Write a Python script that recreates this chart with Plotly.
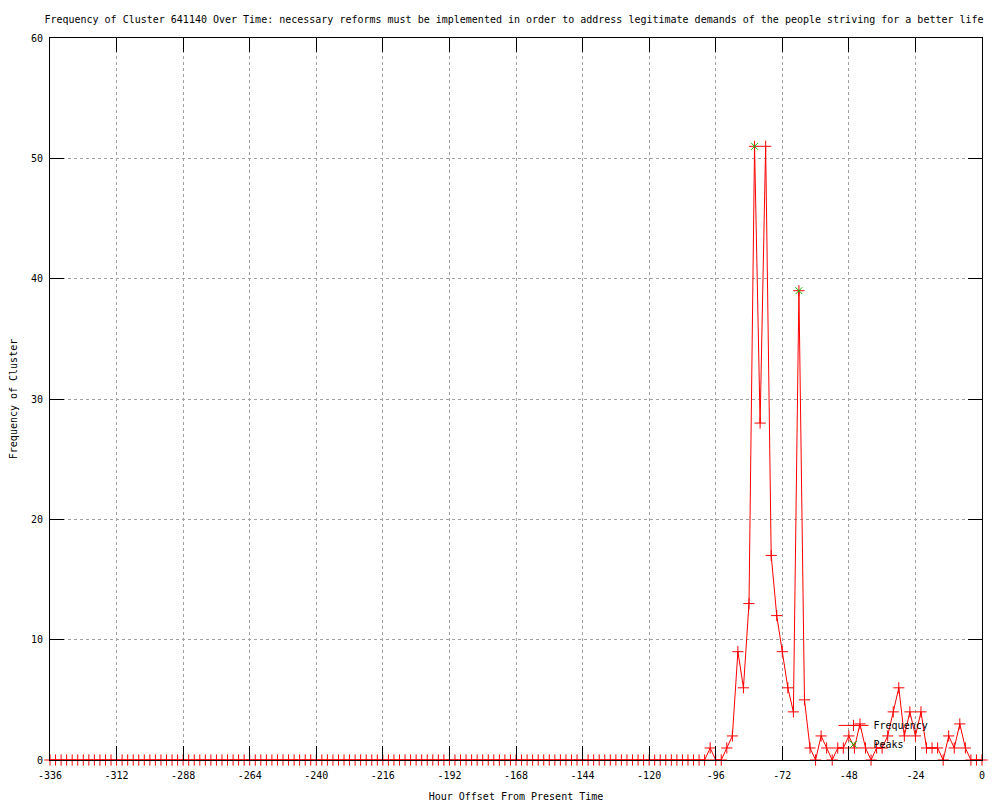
import plotly.graph_objects as go

# ---- data ----
hours = list(range(-336, 1, 2))  # one sample every 2 hours

freq = [
    # -336 .. -298
    0, 0, 0, 0, 0, 0, 0, 0, 0, 0, 0, 0, 0, 0, 0, 0, 0, 0, 0, 0,
    # -296 .. -258
    0, 0, 0, 0, 0, 0, 0, 0, 0, 0, 0, 0, 0, 0, 0, 0, 0, 0, 0, 0,
    # -256 .. -218
    0, 0, 0, 0, 0, 0, 0, 0, 0, 0, 0, 0, 0, 0, 0, 0, 0, 0, 0, 0,
    # -216 .. -178
    0, 0, 0, 0, 0, 0, 0, 0, 0, 0, 0, 0, 0, 0, 0, 0, 0, 0, 0, 0,
    # -176 .. -138
    0, 0, 0, 0, 0, 0, 0, 0, 0, 0, 0, 0, 0, 0, 0, 0, 0, 0, 0, 0,
    # -136 .. -100
    0, 0, 0, 0, 0, 0, 0, 0, 0, 0, 0, 0, 0, 0, 0, 0, 0, 0, 0,
    # -98 .. -60
    1, 0, 0, 1, 2, 9, 6, 13, 51, 28, 51, 17, 12, 9, 6, 4, 39, 5, 1, 0,
    # -58 .. -20
    2, 1, 0, 1, 1, 2, 1, 3, 1, 0, 1, 1, 2, 4, 6, 2, 4, 2, 4, 1,
    # -18 .. 0
    1, 1, 0, 2, 1, 3, 1, 0, 0, 0,
]

peak_hours = [-82, -66]
peak_values = [51, 39]

x_tickvals = [-336, -312, -288, -264, -240, -216, -192, -168, -144, -120, -96, -72, -48, -24, 0]
x_ticktext = ["-336", "-312", "-288", "-264", "-240", "-216", "-192", "-168", "-144", "-120",
              "-96", "-72", "-48", "-24", "0"]
y_tickvals = [0, 10, 20, 30, 40, 50, 60]

title_text = ("Frequency of Cluster 641140 Over Time: necessary reforms must be implemented "
              "in order to address legitimate demands of the people striving for a better life")

FONT = "DejaVu Sans Mono"
RED = "#ff0000"
GREEN = "#00c000"
GRID = "#a0a0a0"

fig = go.Figure()
fig.add_trace(go.Scatter(
    x=hours, y=freq, mode="lines+markers", name="Frequency",
    line=dict(color=RED, width=1),
    marker=dict(symbol="cross-thin", size=8, color=RED, line=dict(color=RED, width=1)),
    cliponaxis=False,
))
fig.add_trace(go.Scatter(
    x=peak_hours, y=peak_values, mode="markers", name="Peaks",
    marker=dict(symbol="x-thin", size=7, color=GREEN, line=dict(color=GREEN, width=1)),
    cliponaxis=False,
))

axis_common = dict(
    showline=True, linecolor="black", linewidth=1, mirror="ticks",
    ticks="inside", ticklen=14, tickwidth=1, tickcolor="black",
    showgrid=True, gridcolor=GRID, gridwidth=1, griddash="dot",
    zeroline=False,
    tickfont=dict(family=FONT, size=10, color="black"),
)

# the page body adds an 8px offset, margins compensate for it
fig.update_layout(
    width=1000, height=800,
    paper_bgcolor="white", plot_bgcolor="white",
    margin=dict(l=42, r=26, t=30, b=48, autoexpand=False),
    font=dict(family=FONT, size=10, color="black"),
    title=dict(text=title_text, x=0.506, xref="container", xanchor="center",
               y=1 - 11 / 800, yref="container", yanchor="middle",
               font=dict(family=FONT, size=10, color="black")),
    xaxis=dict(range=[-336, 0], tickmode="array", tickvals=x_tickvals, ticktext=x_ticktext,
               ticklabelstandoff=6,
               title=dict(text="Hour Offset From Present Time", standoff=12,
                          font=dict(family=FONT, size=10)),
               **axis_common),
    yaxis=dict(range=[0, 60], tickmode="array", tickvals=y_tickvals,
               ticklabelstandoff=4,
               title=dict(text="Frequency of Cluster", standoff=12,
                          font=dict(family=FONT, size=10)),
               **axis_common),
    legend=dict(x=0.948, xanchor="right", y=0.068, yanchor="top",
                bgcolor="rgba(0,0,0,0)", font=dict(family=FONT, size=10),
                itemwidth=30, tracegroupgap=0),
    showlegend=True,
)

fig.write_html("out.html")
